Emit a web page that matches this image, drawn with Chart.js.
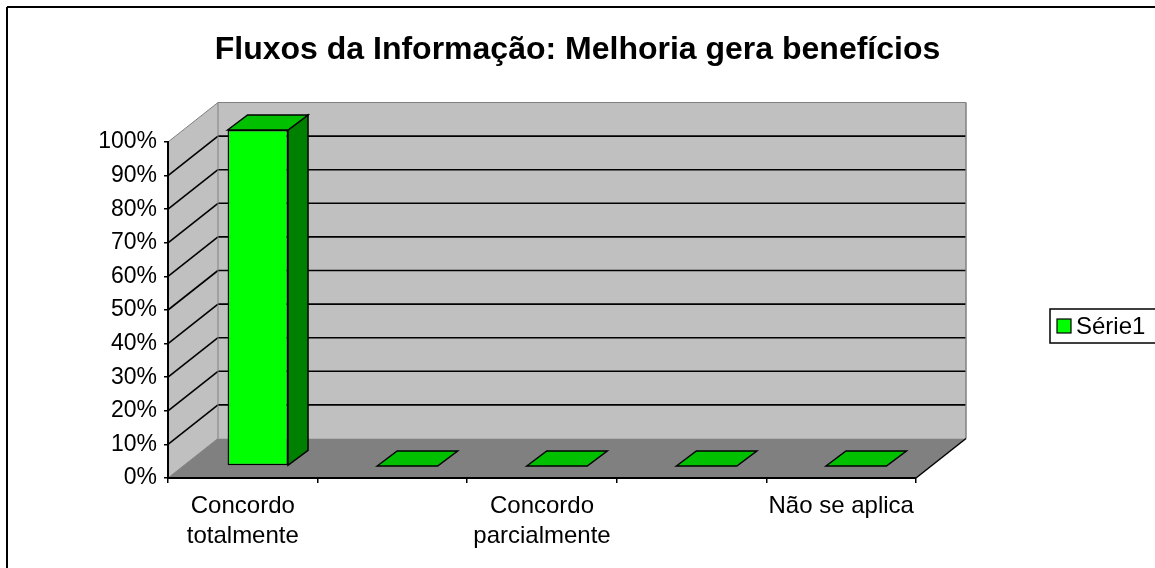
<!DOCTYPE html>
<html>
<head>
<meta charset="utf-8">
<script src="https://cdn.jsdelivr.net/npm/chart.js@4.4.1/dist/chart.umd.min.js"></script>
<style>
  html, body { margin: 0; padding: 0; background: #fff; }
  #wrap { width: 1155px; height: 568px; position: relative; }
</style>
</head>
<body>
<div id="wrap"><canvas id="c" width="1155" height="568"></canvas></div>
<script>
// ---- data ----
const chartTitle = 'Fluxos da Informação: Melhoria gera benefícios';
const categories = [['Concordo', 'totalmente'], '', ['Concordo', 'parcialmente'], '', 'Não se aplica'];
const seriesName = 'Série1';
const seriesValues = [1.00, 0, 0, 0, 0];
const yTickLabels = ['0%', '10%', '20%', '30%', '40%', '50%', '60%', '70%', '80%', '90%', '100%'];

// ---- styling / geometry constants ----
const FONT = '"Liberation Sans", Arial, sans-serif';
const DEPTH_DX = 50, DEPTH_DY = -39.5;      // wall depth (oblique projection)
const BAR_DX = 15, BAR_DY = -12;            // bar front-plane offset inside depth
const BAR_DEP_DX = 20, BAR_DEP_DY = -15;    // bar depth
const WALL = '#c0c0c0', FLOOR = '#808080', WALL_EDGE = '#808080';
const FRONT = '#00ff00', TOP = '#00c000', SIDE = '#008000';

function poly(ctx, pts, fill, stroke, lw) {
  ctx.beginPath();
  ctx.moveTo(pts[0][0], pts[0][1]);
  for (let i = 1; i < pts.length; i++) ctx.lineTo(pts[i][0], pts[i][1]);
  ctx.closePath();
  if (fill) { ctx.fillStyle = fill; ctx.fill(); }
  if (stroke) { ctx.strokeStyle = stroke; ctx.lineWidth = lw || 1; ctx.lineJoin = 'miter'; ctx.stroke(); }
}
function line(ctx, x1, y1, x2, y2, color, lw) {
  ctx.beginPath(); ctx.moveTo(x1, y1); ctx.lineTo(x2, y2);
  ctx.strokeStyle = color; ctx.lineWidth = lw; ctx.stroke();
}

const walls3d = {
  id: 'walls3d',
  beforeDraw(chart) {
    const ctx = chart.ctx, xs = chart.scales.x, ys = chart.scales.y;
    const L = xs.left, R = xs.right;
    const B = ys.getPixelForValue(0), T = ys.getPixelForValue(1);
    const dx = DEPTH_DX, dy = DEPTH_DY;
    ctx.save();
    ctx.fillStyle = '#fff';
    ctx.fillRect(0, 0, chart.width, chart.height);
    // outer chart border (cropped on right/bottom)
    line(ctx, 7, 7, chart.width + 5, 7, '#000', 2);
    line(ctx, 7, 7, 7, chart.height + 5, '#000', 2);
    // side wall
    poly(ctx, [[L, T], [L + dx, T + dy], [L + dx, B + dy], [L, B]], WALL);
    // back wall
    poly(ctx, [[L + dx, T + dy], [R + dx, T + dy], [R + dx, B + dy], [L + dx, B + dy]], WALL);
    // floor
    poly(ctx, [[L, B], [L + dx, B + dy], [R + dx, B + dy], [R, B]], FLOOR);
    // gridlines on side and back walls
    const n = ys.ticks.length;
    ys.ticks.forEach((t, i) => {
      const py = ys.getPixelForValue(t.value);
      const edge = (i === 0 || i === n - 1);
      const col = edge ? WALL_EDGE : '#000';
      const lw = edge ? 1 : 1.6;
      line(ctx, L, py, L + dx, py + dy, col, lw);
      if (i !== 0) line(ctx, L + dx, py + dy, R + dx, py + dy, col, lw);
    });
    // back wall edges
    line(ctx, L + dx, T + dy, L + dx, B + dy, WALL_EDGE, 1);
    line(ctx, R + dx, T + dy, R + dx, B + dy, WALL_EDGE, 1.5);
    // floor right edge
    line(ctx, R, B, R + dx, B + dy, '#000', 1.5);
    ctx.restore();
  }
};

const bars3d = {
  id: 'bars3d',
  beforeDatasetsDraw(chart) {
    chart.ctx.save();
    chart.ctx.translate(BAR_DX, BAR_DY);
  },
  afterDatasetsDraw(chart) {
    const ctx = chart.ctx;
    chart.getDatasetMeta(0).data.forEach(el => {
      const p = el.getProps(['x', 'y', 'base', 'width'], true);
      const l = p.x - p.width / 2, r = p.x + p.width / 2;
      const top = Math.min(p.y, p.base), base = Math.max(p.y, p.base);
      if (base - top > 0.5) {
        poly(ctx, [[r, top], [r + BAR_DEP_DX, top + BAR_DEP_DY], [r + BAR_DEP_DX, base + BAR_DEP_DY], [r, base]], SIDE, '#000', 1.5);
      }
      poly(ctx, [[l, top], [l + BAR_DEP_DX, top + BAR_DEP_DY], [r + BAR_DEP_DX, top + BAR_DEP_DY], [r, top]], TOP, '#000', 1.5);
    });
    ctx.restore();
  }
};

const legendBox = {
  id: 'legendBox',
  afterDraw(chart) {
    const ctx = chart.ctx;
    const ds = chart.data.datasets[0];
    const bx = 1050, by = 309, bh = 34;
    ctx.save();
    ctx.fillStyle = '#fff';
    ctx.fillRect(bx, by, chart.width - bx + 10, bh);
    ctx.strokeStyle = '#000'; ctx.lineWidth = 1.5;
    ctx.strokeRect(bx, by, chart.width - bx + 10, bh);
    const cy = by + bh / 2;
    ctx.fillStyle = ds.backgroundColor;
    ctx.fillRect(1057, cy - 7, 14, 14);
    ctx.lineWidth = 1.2;
    ctx.strokeRect(1057, cy - 7, 14, 14);
    ctx.fillStyle = '#000';
    ctx.font = '24px ' + FONT;
    ctx.textBaseline = 'middle';
    ctx.textAlign = 'left';
    ctx.fillText(ds.label, 1076, cy + 1);
    ctx.restore();
  }
};

new Chart(document.getElementById('c'), {
  type: 'bar',
  data: {
    labels: categories,
    datasets: [{
      label: seriesName,
      data: seriesValues,
      backgroundColor: FRONT,
      borderColor: '#000',
      borderWidth: 1.5,
      borderSkipped: false,
      categoryPercentage: 1,
      barPercentage: 0.404,
      clip: false
    }]
  },
  plugins: [walls3d, bars3d, legendBox],
  options: {
    responsive: false,
    devicePixelRatio: 1,
    animation: false,
    events: [],
    layout: { padding: { left: 0, right: 0, top: 0, bottom: 0 } },
    plugins: {
      legend: { display: false },
      tooltip: { enabled: false },
      title: {
        display: true,
        text: chartTitle,
        color: '#000',
        font: { family: FONT, size: 32, weight: 'bold', lineHeight: 1.2 },
        padding: { top: 31, bottom: 72.6 }
      }
    },
    scales: {
      x: {
        position: 'bottom',
        offset: true,
        afterFit(s) { s.height = 90; },
        grid: { offset: true, drawOnChartArea: false, drawTicks: true, tickLength: 5, color: '#000', lineWidth: 1.5 },
        border: { display: true, color: '#000', width: 2 },
        ticks: {
          autoSkip: false, maxRotation: 0, minRotation: 0, padding: 8,
          color: '#000',
          font: { family: FONT, size: 24, lineHeight: 1.25 },
          callback: (v, i) => categories[i]
        }
      },
      y: {
        position: 'left',
        min: 0, max: 1,
        afterFit(s) { s.width = 168; },
        grid: { drawOnChartArea: false, drawTicks: true, tickLength: 4, color: '#000', lineWidth: 1.5 },
        border: { display: true, color: '#000', width: 2 },
        ticks: {
          stepSize: 0.1, padding: 7, color: '#000',
          font: { family: FONT, size: 23 },
          callback: (v, i) => yTickLabels[i]
        }
      },
      spacer: {
        position: 'right',
        display: true,
        afterFit(s) { s.width = 239; },
        grid: { display: false, drawTicks: false },
        border: { display: false },
        ticks: { display: false }
      }
    }
  }
});
</script>
</body>
</html>
